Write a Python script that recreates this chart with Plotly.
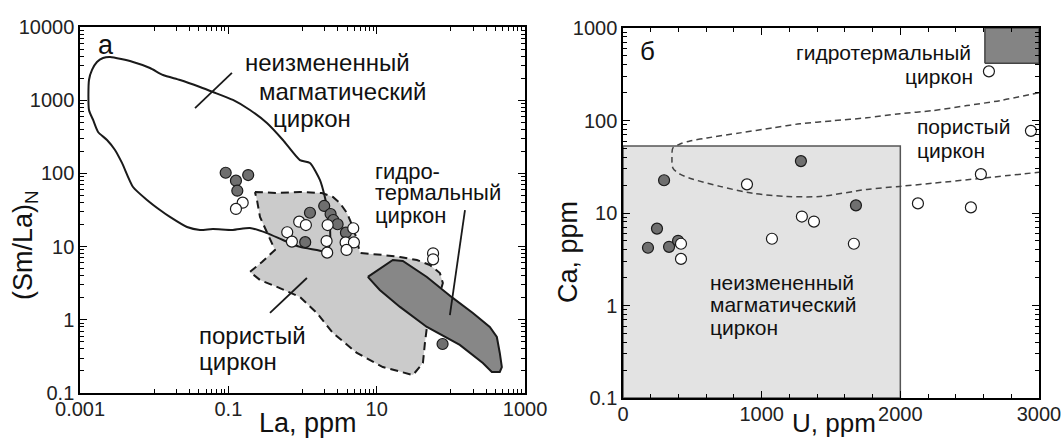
import plotly.graph_objects as go

FONT = "Liberation Sans, Arial, sans-serif"

# ---------------- panel а : La vs (Sm/La)N ----------------
# unaltered magmatic zircon field (solid outline)
magm_la = [0.00254, 0.00518, 0.00877, 0.01315, 0.0223, 0.0414, 0.0620, 0.1153, 0.1954,
           0.331, 0.544, 0.922, 1.26, 1.72, 2.0, 2.20, 2.34, 2.34, 2.13, 1.56, 0.922,
           0.544, 0.331, 0.195, 0.115, 0.0620, 0.0414, 0.0277, 0.0163, 0.01197, 0.0080,
           0.00518, 0.00368, 0.00296, 0.00231, 0.00175, 0.00150, 0.00132, 0.00132,
           0.00145, 0.00169, 0.00204, 0.00254]
magm_smla = [3890, 3325, 2754, 2208, 1888, 1514, 1294, 1007, 735, 488, 286, 152, 139,
             81, 47.6, 28.8, 18.5, 11.2, 8.43, 9.0, 9.9, 12.3, 15.3, 17.96, 16.9, 17.4,
             16.9, 18.5, 25.4, 31.6, 43.4, 65.2, 139, 209, 286, 368, 537, 735, 1888,
             2589, 3325, 3770, 3890]

# porous zircon field (grey, dashed outline)
por_la = [0.228, 0.452, 0.922, 1.82, 2.57, 3.19, 3.97, 4.78, 5.41, 5.94, 12.1, 20.6,
          34.8, 52.1, 71.1, 78.0, 66.8, 47.6, 44.7, 42.0, 30.8, 20.6, 12.1, 5.41, 2.57,
          1.56, 0.922, 0.452, 0.267, 0.195, 0.284, 0.425, 0.331, 0.267, 0.243, 0.228]
por_smla = [55.7, 54.0, 55.7, 54.0, 47.6, 39.4, 28.8, 18.5, 12.3, 8.19, 7.68, 7.21,
            6.56, 5.61, 4.36, 3.18, 1.86, 0.797, 0.482, 0.257, 0.176, 0.194, 0.226,
            0.352, 0.661, 1.24, 2.05, 2.81, 3.50, 4.50, 6.16, 9.0, 15.3, 25.4, 43.4, 55.7]

# hydrothermal zircon field (dark grey)
hyd_la = [7.60, 16.5, 22.5, 47.5, 106, 198, 335, 417, 457, 487, 457, 357, 270, 132,
          47.5, 20.6, 11.0, 7.60]
hyd_smla = [3.85, 6.56, 6.36, 3.85, 1.99, 1.24, 0.797, 0.582, 0.352, 0.226, 0.194,
            0.194, 0.257, 0.453, 0.797, 1.50, 2.55, 3.85]

# analyses: grey and open symbols
a_grey_la = [0.092, 0.185, 0.1265, 0.132, 1.26, 1.96, 2.39, 2.60, 2.97, 3.85, 1.087, 77.3]
a_grey_smla = [102, 95, 79.5, 58, 29, 35.9, 27.9, 23.1, 20.2, 15.5, 11.5, 0.467]
a_open_la = [0.156, 0.1265, 0.902, 1.11, 0.622, 0.719, 2.18, 2.11, 2.15, 4.83, 3.81,
             4.93, 3.92, 57.6, 57.6]
a_open_smla = [39.8, 32.7, 21.9, 19.7, 15.7, 11.7, 19.7, 11.9, 8.27, 17.8, 11.4, 11.4,
               9.0, 8.09, 6.70]

# label leaders
lead_magm_la, lead_magm_smla = [0.0355, 0.1117], [781, 2355]
lead_por_la, lead_por_smla = [0.364, 1.146], [1.24, 3.72]
lead_hyd_la, lead_hyd_smla = [97, 155], [1.16, 31.6]

a_xticks = [0.001, 0.1, 10, 1000]
a_xticktext = ["0.001", "0.1", "10", "1000"]
a_yticks = [0.1, 1, 10, 100, 1000, 10000]
a_yticktext = ["0.1", "1", "10", "100", "1000", "10000"]

# ---------------- panel б : U vs Ca ----------------
por_u = [3000, 2718, 2480, 2235, 1997, 1759, 1514, 1276, 1081, 844, 606, 483, 411, 360,
         353, 360, 411, 505, 699, 937, 1182, 1420, 1759, 1997, 2235, 2596, 3000]
por_ca = [200, 164, 145, 128, 118.5, 107, 99.4, 92.2, 83.4, 73.5, 64.8, 60.1, 55.8, 50.5,
          39.3, 30.6, 26.3, 23.2, 19.4, 16.3, 15.1, 15.1, 18.0, 19.4, 21.0, 23.8, 27.6]

magm_box_u = [0, 2000]
magm_box_ca = [0.1, 53]
hyd_box_u = [2610, 3000]
hyd_box_ca = [416, 1000]

b_grey_u = [296, 245, 180, 332, 397, 1283, 1680]
b_grey_ca = [22.6, 6.78, 4.21, 4.31, 5.01, 36.4, 12.1]
b_open_u = [418, 418, 894, 1074, 1290, 1377, 1665, 2127, 2509, 2581, 2942, 2639]
b_open_ca = [4.65, 3.19, 20.4, 5.27, 9.16, 8.08, 4.65, 12.7, 11.5, 26.3, 77.3, 340]

b_xticks = [0, 1000, 2000, 3000]
b_yticks = [0.1, 1, 10, 100, 1000]
b_yticktext = ["0.1", "1", "10", "100", "1000"]

LIGHT = "#cbcbcb"
DARK = "#878787"
DOT = "#6f6f6f"
EDGE = "#1a1a1a"

fig = go.Figure()


def box(u, ca):
    return [u[0], u[1], u[1], u[0], u[0]], [ca[0], ca[0], ca[1], ca[1], ca[0]]


# panel а fields
fig.add_trace(go.Scatter(x=por_la, y=por_smla, mode="lines", fill="toself",
                         fillcolor=LIGHT, line=dict(color=EDGE, width=2, dash="8px,5px"),
                         xaxis="x", yaxis="y", hoverinfo="skip"))
fig.add_trace(go.Scatter(x=magm_la, y=magm_smla, mode="lines",
                         line=dict(color=EDGE, width=2, shape="spline", smoothing=0.6),
                         xaxis="x", yaxis="y", hoverinfo="skip"))
fig.add_trace(go.Scatter(x=hyd_la, y=hyd_smla, mode="lines", fill="toself",
                         fillcolor=DARK, line=dict(color=EDGE, width=2),
                         xaxis="x", yaxis="y", hoverinfo="skip"))
for lx, ly in [(lead_magm_la, lead_magm_smla), (lead_por_la, lead_por_smla),
               (lead_hyd_la, lead_hyd_smla)]:
    fig.add_trace(go.Scatter(x=lx, y=ly, mode="lines", line=dict(color=EDGE, width=1.8),
                             xaxis="x", yaxis="y", hoverinfo="skip"))
fig.add_trace(go.Scatter(x=a_grey_la, y=a_grey_smla, mode="markers",
                         marker=dict(size=11, color=DOT, line=dict(color=EDGE, width=1.2)),
                         xaxis="x", yaxis="y"))
fig.add_trace(go.Scatter(x=a_open_la, y=a_open_smla, mode="markers",
                         marker=dict(size=11, color="white", line=dict(color=EDGE, width=1.2)),
                         xaxis="x", yaxis="y"))

# panel б fields
bx, by = box(magm_box_u, magm_box_ca)
fig.add_trace(go.Scatter(x=bx, y=by, mode="lines", fill="toself", fillcolor="#e3e3e3",
                         line=dict(color="#555555", width=1.5),
                         xaxis="x2", yaxis="y2", hoverinfo="skip"))
hx, hy = box(hyd_box_u, hyd_box_ca)
fig.add_trace(go.Scatter(x=hx, y=hy, mode="lines", fill="toself", fillcolor="#848484",
                         line=dict(color="#444444", width=1.5),
                         xaxis="x2", yaxis="y2", hoverinfo="skip"))
fig.add_trace(go.Scatter(x=por_u, y=por_ca, mode="lines",
                         line=dict(color="#444444", width=1.5, dash="6px,4px",
                                   shape="spline", smoothing=0.8),
                         xaxis="x2", yaxis="y2", hoverinfo="skip"))
fig.add_trace(go.Scatter(x=b_grey_u, y=b_grey_ca, mode="markers",
                         marker=dict(size=11, color=DOT, line=dict(color=EDGE, width=1.2)),
                         xaxis="x2", yaxis="y2"))
fig.add_trace(go.Scatter(x=b_open_u, y=b_open_ca, mode="markers",
                         marker=dict(size=11, color="white", line=dict(color=EDGE, width=1.2)),
                         xaxis="x2", yaxis="y2"))

axis_common = dict(showline=True, linecolor="black", linewidth=1.5, mirror="allticks",
                   ticks="inside", ticklen=7, tickwidth=1.2, tickcolor="black",
                   showgrid=False, zeroline=False, automargin=False,
                   tickfont=dict(size=20, family=FONT, color="#222222"))


def minor_log(decades, mults):
    return [m * 10.0 ** k for k in decades for m in mults]


fig.update_layout(
    template="none",
    width=1063, height=444, margin=dict(l=0, r=0, t=0, b=0, pad=0),
    paper_bgcolor="white", plot_bgcolor="white", showlegend=False,
    font=dict(family=FONT, color="#111111"),
    xaxis=dict(axis_common, type="log", range=[-3, 3], domain=[0.0753, 0.4939],
               anchor="y", tickvals=a_xticks, ticktext=a_xticktext, ticklabelstandoff=-3,
               minor=dict(ticks="inside", ticklen=4, tickwidth=1, tickcolor="black",
                          tickvals=minor_log([-2, 0, 2], range(1, 10)), showgrid=False)),
    yaxis=dict(axis_common, type="log", range=[-1, 4], domain=[0.1149, 0.9392],
               anchor="x", tickvals=a_yticks, ticktext=a_yticktext,
               minor=dict(ticks="inside", ticklen=4, tickwidth=1, tickcolor="black",
                          tickvals=minor_log(range(-1, 4), range(2, 10)), showgrid=False)),
    xaxis2=dict(axis_common, type="linear", range=[0, 3000], domain=[0.5861, 0.9774],
                anchor="y2", tickvals=b_xticks, ticklabelstandoff=-3,
                minor=dict(ticks="inside", ticklen=4, tickwidth=1, tickcolor="black",
                           dtick=200, showgrid=False)),
    yaxis2=dict(axis_common, type="log", range=[-1, 3], domain=[0.1036, 0.9369],
                anchor="x2", tickvals=b_yticks, ticktext=b_yticktext,
                minor=dict(ticks="inside", ticklen=4, tickwidth=1, tickcolor="black",
                           tickvals=minor_log(range(-1, 3), range(2, 10)), showgrid=False)),
)

ann = []


def label(text, ax, x, y, size, xanchor="left", angle=0, ref="domain"):
    if ref == "domain":
        xr, yr = ax[0] + " domain", ax[1] + " domain"
    else:
        xr, yr = "paper", "paper"
    ann.append(dict(text=text, xref=xr, yref=yr, x=x, y=y, xanchor=xanchor,
                    yanchor="middle", showarrow=False, textangle=angle,
                    font=dict(size=size, family=FONT, color="#111111")))


A = ("x", "y")
B = ("x2", "y2")
label("а", A, 0.058, 0.951, 27, "center")
label("неизмененный", A, 0.366, 0.902, 24)
label("магматический", A, 0.398, 0.825, 24)
label("циркон", A, 0.429, 0.751, 24)
label("гидро-", A, 0.658, 0.606, 22)
label("термальный", A, 0.658, 0.549, 22)
label("циркон", A, 0.658, 0.484, 22)
label("пористый", A, 0.263, 0.156, 24)
label("циркон", A, 0.263, 0.085, 24)

label("б", B, 0.060, 0.937, 26, "center")
label("гидротермальный", B, 0.841, 0.935, 21, "right")
label("циркон", B, 0.846, 0.869, 21, "right")
label("пористый", B, 0.702, 0.733, 21)
label("циркон", B, 0.702, 0.668, 21)
label("неизмененный", B, 0.204, 0.313, 21)
label("магматический", B, 0.204, 0.253, 21)
label("циркон", B, 0.204, 0.191, 21)

# axis titles
label("La, ppm", A, 308 / 1063, 1 - 423 / 444, 27, "center", ref="paper")
label("U, ppm", B, 834 / 1063, 1 - 423 / 444, 26, "center", ref="paper")
label("(Sm/La)<sub>N</sub>", A, 25 / 1063, 1 - 245 / 444, 27, "center", -90, ref="paper")
label("Ca, ppm", B, 568 / 1063, 1 - 252 / 444, 27, "center", -90, ref="paper")

fig.update_layout(annotations=ann)
fig.write_html("out.html")
